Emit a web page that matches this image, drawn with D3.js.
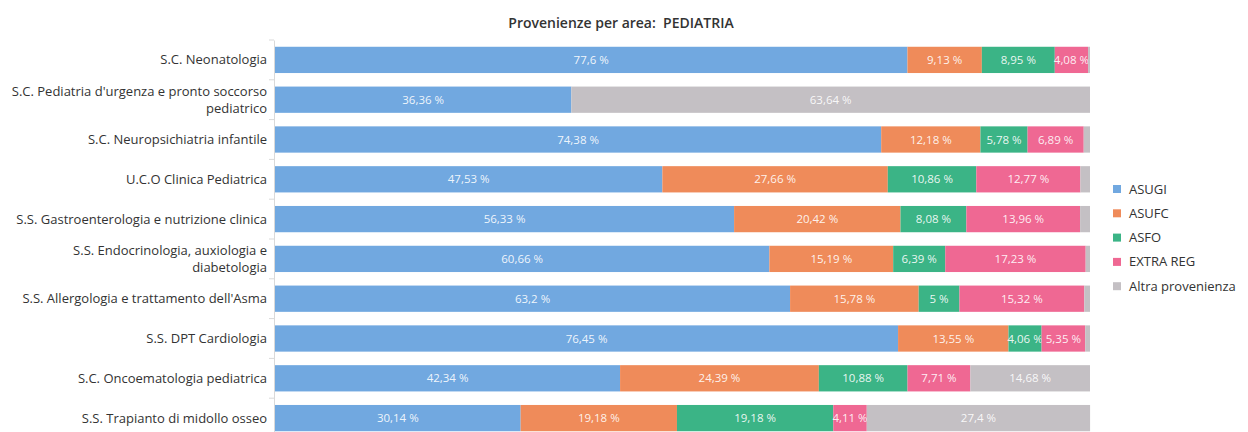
<!DOCTYPE html>
<html>
<head>
<meta charset="utf-8">
<script src="https://cdn.jsdelivr.net/npm/d3@7"></script>
<style>
  body { margin: 0; background: #fff; }
  text { font-family: "Open Sans", "Noto Sans", sans-serif; }
</style>
</head>
<body>
<div id="container"></div>
<script>
/* DATA */
const categories = [
  "S.C. Neonatologia",
  "S.C. Pediatria d'urgenza e pronto soccorso|pediatrico",
  "S.C. Neuropsichiatria infantile",
  "U.C.O Clinica Pediatrica",
  "S.S. Gastroenterologia e nutrizione clinica",
  "S.S. Endocrinologia, auxiologia e|diabetologia",
  "S.S. Allergologia e trattamento dell'Asma",
  "S.S. DPT Cardiologia",
  "S.C. Oncoematologia pediatrica",
  "S.S. Trapianto di midollo osseo"
];
const seriesNames = ["ASUGI", "ASUFC", "ASFO", "EXTRA REG", "Altra provenienza"];
const asugi  = [77.6, 36.36, 74.38, 47.53, 56.33, 60.66, 63.2, 76.45, 42.34, 30.14];
const asufc  = [9.13, 0, 12.18, 27.66, 20.42, 15.19, 15.78, 13.55, 24.39, 19.18];
const asfo   = [8.95, 0, 5.78, 10.86, 8.08, 6.39, 5, 4.06, 10.88, 19.18];
const extra  = [4.08, 0, 6.89, 12.77, 13.96, 17.23, 15.32, 5.35, 7.71, 4.11];
const altra  = [0.24, 63.64, 0.77, 1.18, 1.21, 0.53, 0.7, 0.59, 14.68, 27.4];
const colors = ["#71a8e0", "#ef8b5a", "#3bb486", "#ef6893", "#c4c0c4"];

const width = 1248, height = 432;
const margin = { top: 40, left: 275, right: 158 };

const rows = categories.map((c, i) => ({
  cat: c, ASUGI: asugi[i], ASUFC: asufc[i], ASFO: asfo[i],
  "EXTRA REG": extra[i], "Altra provenienza": altra[i]
}));

const stacked = d3.stack().keys(seriesNames)(rows);

const svg = d3.select("#container")
  .append("svg")
  .attr("width", width)
  .attr("height", height);

// scales
const xScale = d3.scaleLinear()
  .domain([0, 100])
  .range([margin.left, width - margin.right]);

const yScale = d3.scaleBand()
  .domain(categories)
  .range([margin.top, margin.top + 398])
  .paddingInner(0.34)
  .paddingOuter(0.17);

const color = d3.scaleOrdinal().domain(seriesNames).range(colors);

// title
svg.append("text")
  .attr("x", 621)
  .attr("y", 28)
  .attr("text-anchor", "middle")
  .attr("font-size", 14)
  .attr("font-weight", 600)
  .attr("fill", "#333")
  .attr("xml:space", "preserve")
  .text("Provenienze per area:  PEDIATRIA");

// y axis
const yAxis = d3.axisLeft(yScale).tickSize(0).tickFormat("");
const gy = svg.append("g")
  .attr("transform", `translate(${margin.left - 1},0)`)
  .call(yAxis);
gy.select(".domain").attr("stroke", "#d9d9d9");

// band boundary ticks
const step = yScale.step();
const bounds = d3.range(categories.length + 1).map(i => margin.top + i * step);
svg.selectAll(".btick")
  .data(bounds)
  .join("line")
  .attr("class", "btick")
  .attr("x1", margin.left - 6)
  .attr("x2", margin.left - 1)
  .attr("y1", d => d)
  .attr("y2", d => d)
  .attr("stroke", "#d9d9d9");

// category labels
svg.selectAll(".cat")
  .data(categories)
  .join("text")
  .attr("class", "cat")
  .attr("text-anchor", "end")
  .attr("font-size", 13)
  .attr("fill", "#333")
  .each(function (d) {
    const lines = d.split("|");
    const cy = yScale(d) + yScale.bandwidth() / 2;
    const t = d3.select(this);
    lines.forEach((l, i) => {
      t.append("tspan")
        .attr("x", margin.left - 8)
        .attr("y", cy + (i - (lines.length - 1) / 2) * 17.5)
        .attr("dy", "0.35em")
        .text(l);
    });
  });

// bars
const layers = svg.selectAll(".layer")
  .data(stacked)
  .join("g")
  .attr("class", "layer")
  .attr("fill", d => color(d.key));

layers.selectAll("rect")
  .data(d => d)
  .join("rect")
  .attr("x", d => xScale(d[0]))
  .attr("y", d => yScale(d.data.cat))
  .attr("width", d => xScale(d[1]) - xScale(d[0]))
  .attr("height", yScale.bandwidth());

// value labels
const fmt = v => String(v).replace(".", ",") + " %";
layers.selectAll(".val")
  .data(d => d.map(p => ({ p, v: p[1] - p[0] })).filter(o => o.v >= 2))
  .join("text")
  .attr("class", "val")
  .attr("x", o => (xScale(o.p[0]) + xScale(o.p[1])) / 2)
  .attr("y", o => yScale(o.p.data.cat) + yScale.bandwidth() / 2)
  .attr("dy", "0.35em")
  .attr("text-anchor", "middle")
  .attr("font-size", 11.5)
  .attr("fill", "#fff")
  .attr("fill-opacity", 0.9)
  .text((o, i, n) => {
    const key = d3.select(n[i].parentNode).datum().key;
    return fmt(o.p.data[key]);
  });

// legend
const legend = svg.append("g")
  .attr("transform", "translate(1113,189)");
const items = legend.selectAll("g")
  .data(seriesNames)
  .join("g")
  .attr("transform", (d, i) => `translate(0,${i * 24.3})`);
items.append("rect")
  .attr("x", 0)
  .attr("y", -4)
  .attr("width", 8)
  .attr("height", 8)
  .attr("fill", d => color(d));
items.append("text")
  .attr("x", 16)
  .attr("dy", "0.35em")
  .attr("font-size", 13)
  .attr("fill", "#333")
  .text(d => d);
</script>
</body>
</html>
